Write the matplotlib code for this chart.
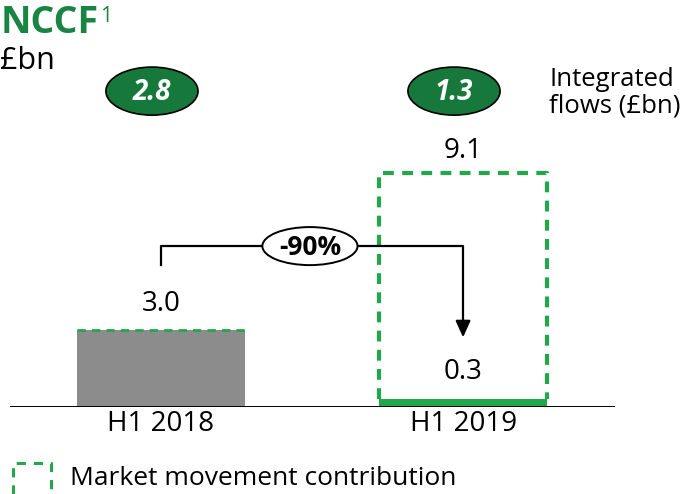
import matplotlib.pyplot as plt
from matplotlib.patches import Ellipse
from matplotlib.lines import Line2D

plt.rcParams['font.family'] = ['Open Sans', 'DejaVu Sans']

# data
periods = ['H1 2018', 'H1 2019']
nccf = [3.0, 0.3]
with_market = [3.0, 9.1]
integrated = [2.8, 1.3]
change_label = '-90%'

GREY = '#8c8c8c'
GREEN = '#22a84a'
DARK = '#17783b'
TITLE = '#1a8445'

fig = plt.figure(figsize=(6.86, 4.94), dpi=100)
W, H = 686, 494
ax = fig.add_axes([10 / W, 87 / H, 605 / W, 347 / H])
ax.set_xlim(-0.5, 1.503)
ax.set_ylim(0, 13.5)
for s in ax.spines.values():
    s.set_visible(False)
ax.set_yticks([])
ax.set_xticks(range(len(periods)))
ax.set_xticklabels(periods, fontsize=20)
ax.tick_params(axis='x', length=0, pad=2)
ax.axhline(0, color='black', lw=1.4, zorder=5)

bw = 0.556
# 2018: grey bar with zero market contribution (dashed line on top)
ax.bar(0, nccf[0], width=bw, color=GREY, zorder=2)
ax.plot([-bw / 2, bw / 2], [with_market[0]] * 2, color=GREEN, lw=2,
        dashes=(3, 2.2), zorder=3)
# 2019: small solid bar + dashed market movement box
ax.bar(1, nccf[1], width=bw, color=GREEN, zorder=2)
ax.plot([1 - bw / 2, 1 - bw / 2, 1 + bw / 2, 1 + bw / 2],
        [nccf[1], with_market[1], with_market[1], nccf[1]],
        color=GREEN, lw=3, dashes=(2.6, 2.0), zorder=3)

# value labels
ax.text(0, with_market[0] + 0.45, f'{nccf[0]:.1f}', ha='center', va='bottom', fontsize=20)
ax.text(1, with_market[1] + 0.3, f'{with_market[1]:.1f}', ha='center', va='bottom', fontsize=20)
ax.text(1, nccf[1] + 0.5, f'{nccf[1]:.1f}', ha='center', va='bottom', fontsize=20)

# integrated flows ellipses
for i, v in enumerate(integrated):
    ax.add_patch(Ellipse((i - 0.03, 12.29), 0.305, 1.87, facecolor=DARK,
                         edgecolor='black', lw=1.2, zorder=4))
    ax.text(i - 0.03, 12.25, f'{v:.1f}', ha='center', va='center', color='white',
            fontsize=20, fontweight='bold', fontstyle='italic', zorder=5)

# change bracket
yb = 6.26
ax.plot([0, 0, 1, 1], [5.52, yb, yb, 3.4], color='black', lw=1.6, zorder=4)
ax.annotate('', xy=(1, 2.6), xytext=(1, 3.5),
            arrowprops=dict(arrowstyle='-|>,head_width=0.45,head_length=1.0',
                            color='black', lw=1.6), zorder=4)
ax.add_patch(Ellipse((0.493, yb), 0.315, 1.48, facecolor='white',
                     edgecolor='black', lw=1.4, zorder=6))
ax.text(0.493, yb - 0.05, change_label, ha='center', va='center', fontsize=19,
        fontweight='bold', zorder=7)

# titles
fig.text(1 / W, 1 - 33 / H, 'NCCF', color=TITLE, fontsize=27, fontweight='bold',
         va='baseline', ha='left')
fig.text(100 / W, 1 - 22 / H, '1', color=TITLE, fontsize=15, va='baseline', ha='left')
fig.text(0 / W, 1 - 69 / H, '£bn', fontsize=22, va='baseline', ha='left')
fig.text(549 / W, 1 - 93 / H, 'Integrated\nflows (£bn)', fontsize=18.5, va='center',
         ha='left', linespacing=1.1)

# legend
fig.add_artist(Line2D([13 / W, 13 / W, 51 / W, 51 / W],
                      [0, 1 - 463 / H, 1 - 463 / H, 0], color=GREEN, lw=2.2,
                      dashes=(3, 2.6)))
fig.text(70 / W, 1 - 478 / H, 'Market movement contribution', fontsize=19,
         va='center', ha='left')

fig.savefig('out.png', dpi=100)
